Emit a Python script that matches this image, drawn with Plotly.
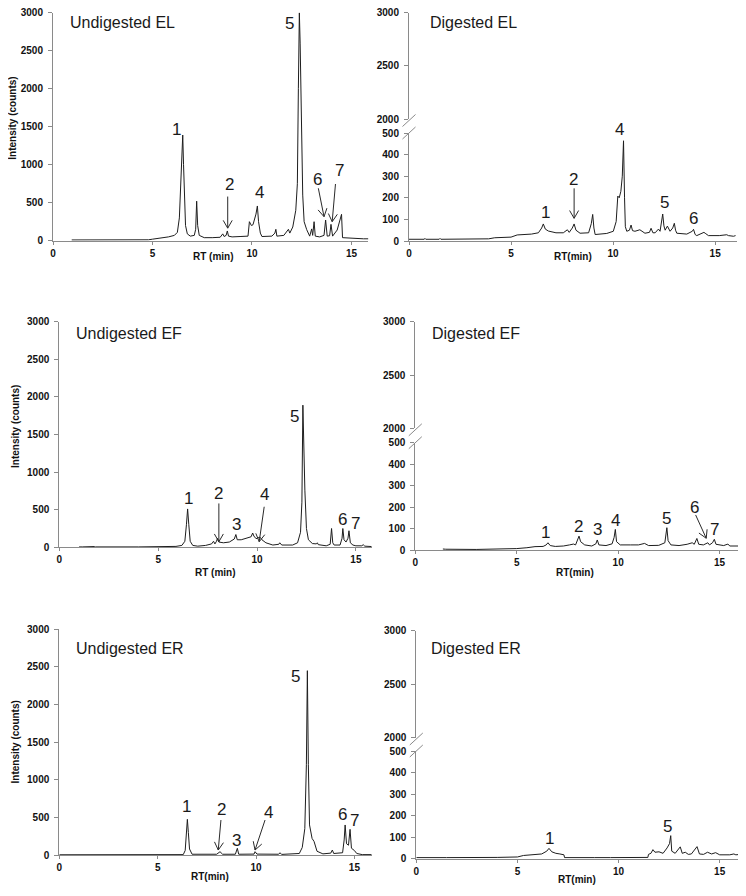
import math
import plotly.graph_objects as go

# page body has an 8px default margin: the figure is sized to fill the rest of the window
PAGE_OFF = 8
W, H = 746 - PAGE_OFF, 896 - PAGE_OFF

# ---------------- data (retention time in min, intensity in counts) ----------------
el_undig_rt = [0.94, 2.75, 3.4, 4.8, 5.0, 5.5, 5.8, 6.1, 6.25, 6.35, 6.42, 6.47, 6.52, 6.56, 6.6, 6.66, 6.75, 6.9,
               7.1, 7.17, 7.22, 7.27, 7.35, 7.6, 8.0, 8.4, 8.53, 8.6, 8.7, 8.76, 8.82, 9.0, 9.4, 9.8, 9.87, 9.97,
               10.05, 10.2, 10.27, 10.33, 10.42, 10.5, 11.0, 11.15, 11.2, 11.25, 11.6, 11.83, 11.9, 12.05, 12.2,
               12.28, 12.33, 12.38, 12.42, 12.5, 12.55, 12.62, 12.75, 12.9, 13.0, 13.05, 13.12, 13.18, 13.4,
               13.62, 13.7, 13.78, 13.9, 13.97, 14.05, 14.28, 14.45, 14.5, 14.55, 14.8, 15.2, 15.6, 15.85]
el_undig_int = [10, 10, 10, 12, 20, 35, 50, 70, 110, 300, 700, 1100, 1390, 1000, 500, 200, 90, 60,
                70, 150, 520, 200, 70, 40, 40, 45, 90, 55, 70, 128, 60, 50, 55, 60, 250, 200,
                210, 350, 457, 250, 100, 55, 60, 100, 150, 60, 70, 150, 100, 180, 400,
                750, 2000, 3000, 2600, 1570, 600, 250, 145, 60, 155, 70, 250, 60, 50,
                70, 272, 60, 65, 215, 60, 140, 300, 347, 40, 35, 30, 25, 25]

el_dig_rt = [0, 0.75, 0.78, 0.82, 1.48, 1.52, 1.56, 3.5, 3.9, 4.2, 5.0, 5.3, 5.6, 6.0, 6.34, 6.5, 6.58, 6.68,
             6.83, 7.2, 7.56, 7.76, 7.85, 8.0, 8.09, 8.18, 8.38, 8.8, 8.93, 9.0, 9.06, 9.12, 9.69, 10.01, 10.15,
             10.23, 10.3, 10.38, 10.45, 10.51, 10.56, 10.6, 10.67, 10.8, 10.88, 10.95, 11.07, 11.31, 11.56,
             11.78, 11.86, 11.95, 12.06, 12.22, 12.3, 12.38, 12.43, 12.49, 12.55, 12.66, 12.79, 12.92, 13.0,
             13.06, 13.12, 13.61, 13.88, 13.94, 14.02, 14.1, 14.35, 14.45, 14.51, 14.67, 15.2, 15.57, 15.65,
             15.9, 16.0]
el_dig_int = [8, 8, 12, 8, 8, 12, 8, 8, 10, 15, 18, 28, 30, 32, 38, 60, 79, 55,
              46, 38, 38, 52, 40, 60, 79, 50, 36, 38, 80, 123, 60, 30, 35, 45, 90,
              208, 200, 230, 300, 464, 200, 66, 45, 50, 74, 48, 45, 52, 36,
              40, 59, 38, 38, 55, 45, 90, 125, 70, 50, 69, 45, 60, 82,
              50, 36, 32, 45, 54, 30, 25, 38, 40, 36, 25, 25, 29, 25,
              22, 25]

ef_undig_rt = [1.0, 1.13, 1.16, 1.78, 1.82, 4.0, 5.5, 5.9, 6.2, 6.35, 6.43, 6.49, 6.55, 6.62, 6.75, 7.0, 7.4,
               7.7, 7.8, 7.87, 7.95, 8.0, 8.07, 8.3, 8.6, 8.85, 8.93, 9.0, 9.2, 9.5, 9.7, 9.78, 9.84, 9.95,
               10.05, 10.15, 10.25, 10.45, 10.8, 11.1, 11.15, 11.25, 11.8, 12.05, 12.2, 12.27, 12.32, 12.36,
               12.42, 12.5, 12.6, 12.8, 13.0, 13.05, 13.1, 13.5, 13.7, 13.77, 13.83, 13.9, 14.2, 14.3, 14.34,
               14.4, 14.5, 14.6, 14.65, 14.72, 14.85, 15.0, 15.3, 15.37, 15.45, 15.8]
ef_undig_int = [5, 8, 5, 10, 5, 5, 8, 12, 25, 80, 300, 510, 300, 80, 25, 15, 25,
                45, 80, 45, 80, 120, 70, 60, 70, 110, 170, 100, 100, 125, 140, 190, 150, 115,
                120, 135, 100, 60, 30, 40, 60, 30, 30, 60, 200, 600, 1890, 1250,
                760, 250, 100, 50, 45, 60, 35, 20, 40, 250, 60, 30, 30, 120, 250,
                100, 70, 120, 220, 60, 30, 20, 20, 35, 15, 10]

ef_dig_rt = [1.36, 1.5, 3.0, 4.0, 4.5, 5.0, 5.5, 5.9, 6.3, 6.45, 6.54, 6.65, 6.9, 7.3, 7.6, 7.8, 7.9, 8.0,
             8.07, 8.15, 8.35, 8.7, 8.9, 8.97, 9.05, 9.4, 9.7, 9.8, 9.86, 9.92, 10.1, 10.6, 11.0, 11.3, 11.5,
             12.0, 12.3, 12.4, 12.46, 12.6, 13.0, 13.4, 13.65, 13.75, 13.88, 13.97, 14.2, 14.42, 14.5, 14.65,
             14.74, 14.82, 15.2, 15.41, 15.5, 16.0]
ef_dig_int = [6, 5, 4, 5, 7, 8, 12, 17, 18, 25, 35, 22, 18, 20, 25, 29, 25, 45,
              66, 40, 25, 20, 30, 48, 25, 22, 30, 60, 97, 40, 25, 25, 25, 32, 22,
              23, 35, 105, 45, 25, 22, 28, 35, 28, 55, 28, 25, 35, 25, 35,
              51, 28, 22, 29, 20, 20]

er_undig_rt = [0, 6.3, 6.4, 6.46, 6.51, 6.56, 6.62, 6.75, 7.5, 8.0, 8.17, 8.3, 8.95, 9.05, 9.12, 9.9, 9.95,
               10.05, 11.15, 11.22, 11.3, 12.2, 12.35, 12.48, 12.56, 12.61, 12.66, 12.72, 12.85, 12.95, 13.1,
               13.4, 13.8, 13.88, 13.95, 14.4, 14.48, 14.53, 14.6, 14.7, 14.78, 14.85, 15.0, 15.12, 15.4, 15.88]
er_undig_int = [3, 5, 60, 300, 474, 300, 80, 10, 5, 10, 44, 10, 10, 89, 10, 12, 44,
                12, 10, 30, 8, 20, 100, 350, 1200, 2450, 1200, 400, 220, 180, 50,
                15, 25, 66, 20, 30, 200, 399, 150, 130, 341, 90, 60, 20, 5, 5]

er_dig_rt = [0, 0.7, 1.5, 4.0, 5.0, 5.3, 5.8, 6.2, 6.45, 6.56, 6.7, 6.9, 7.1, 7.3, 7.33, 7.75, 8.8, 9.6,
             11.45, 11.48, 11.6, 11.7, 11.8, 12.0, 12.2, 12.4, 12.52, 12.58, 12.63, 12.8, 12.95, 13.05, 13.15,
             13.3, 13.45, 13.6, 13.88, 14.0, 14.2, 14.4, 14.6, 14.8, 15.0, 15.5, 15.7, 15.8, 16.0]
er_dig_int = [5, 6, 5, 6, 8, 15, 18, 22, 35, 48, 32, 25, 22, 18, 5, 6, 5, 5,
              6, 20, 25, 42, 30, 32, 25, 50, 70, 107, 35, 25, 40, 55, 25,
              30, 20, 22, 56, 22, 20, 30, 22, 28, 18, 18, 22, 18, 20]

left_ticks = [0, 500, 1000, 1500, 2000, 2500, 3000]
lower_ticks = [0, 100, 200, 300, 400, 500]
upper_ticks = [2000, 2500, 3000]
x_ticks = [0, 5, 10, 15]

# peak labels: (text, rt, intensity)
labels_el_undig = [("1", 6.22, 1466), ("2", 8.89, 733), ("4", 10.37, 632), ("5", 11.9, 2860),
                   ("6", 13.3, 799), ("7", 14.42, 921)]
labels_el_dig = [("1", 6.68, 131), ("2", 8.05, 287), ("4", 10.29, 517), ("5", 12.52, 177), ("6", 13.92, 105)]
labels_ef_undig = [("1", 6.52, 651), ("2", 8.04, 709), ("3", 8.97, 297), ("4", 10.4, 696), ("5", 11.92, 1746),
                   ("6", 14.31, 372), ("7", 14.98, 319)]
labels_ef_dig = [("1", 6.42, 82), ("2", 8.02, 109), ("3", 9.0, 97), ("4", 9.86, 140), ("5", 12.37, 148),
                 ("6", 13.77, 201), ("7", 14.75, 97)]
labels_er_undig = [("1", 6.47, 651), ("2", 8.25, 607), ("3", 9.02, 199), ("4", 10.63, 563), ("5", 12.02, 2379),
                   ("6", 14.39, 532), ("7", 15.0, 465)]
labels_er_dig = [("1", 6.59, 94), ("5", 12.4, 148)]

# arrows: (tip rt, tip intensity, tail dx px, tail dy px)
arrows_el_undig = [(8.78, 165, 0, -31.6), (13.62, 316, -5.7, -28.4), (14.03, 250, 3.3, -37.7)]
arrows_el_dig = [(8.09, 105, 0, -30)]
arrows_ef_undig = [(8.07, 74, 0, -38.3), (10.11, 74, 5, -35)]
arrows_ef_dig = [(14.34, 56, -10.6, -23.3)]
arrows_er_undig = [(8.08, 66, 2.7, -30), (9.95, 66, 10, -30)]
arrows_er_dig = []

# ---------------- layout geometry (window pixels) ----------------
FONT = "Liberation Sans, Arial, Helvetica, sans-serif"
AXC = "#8a8a8a"
LC = "#1e1e1e"
TXT = "#1a1a1a"


def fx(p):
    return (p - PAGE_OFF) / W


def fy(p):
    return 1 - (p - PAGE_OFF) / H


panels = [
    dict(title="Undigested EL", rt=el_undig_rt, y=el_undig_int, broken=False,
         xpx=(53, 368.4), xmax=15.85, ypx=(12.7, 240.7), title_px=(68, 23),
         xlabel="RT (min)", xlabel_px=(213, 256.7), ylabel_px=(12.7, 118),
         labels=labels_el_undig, arrows=arrows_el_undig),
    dict(title="Digested EL", rt=el_dig_rt, y=el_dig_int, broken=True,
         xpx=(409, 737), xmax=16.07, ypx=(133, 241), upx=(12.7, 119.0), title_px=(428, 22.7),
         xlabel="RT(min)", xlabel_px=(573, 256.5), labels=labels_el_dig, arrows=arrows_el_dig),
    dict(title="Undigested EF", rt=ef_undig_rt, y=ef_undig_int, broken=False,
         xpx=(59.3, 371.7), xmax=15.8, ypx=(321.7, 547.3), title_px=(74, 333.3),
         xlabel="RT (min)", xlabel_px=(215, 572.7), ylabel_px=(15, 427),
         labels=labels_ef_undig, arrows=arrows_ef_undig),
    dict(title="Digested EF", rt=ef_dig_rt, y=ef_dig_int, broken=True,
         xpx=(415.3, 739.7), xmax=15.99, ypx=(442.7, 550.3), upx=(321.7, 428.3), title_px=(430.3, 333.3),
         xlabel="RT(min)", xlabel_px=(574.7, 572.7), labels=labels_ef_dig, arrows=arrows_ef_dig),
    dict(title="Undigested ER", rt=er_undig_rt, y=er_undig_int, broken=False,
         xpx=(59.3, 371.7), xmax=15.88, ypx=(629.3, 855), title_px=(74, 648.3),
         xlabel="RT(min)", xlabel_px=(210, 876), ylabel_px=(15, 742.5),
         labels=labels_er_undig, arrows=arrows_er_undig),
    dict(title="Digested ER", rt=er_dig_rt, y=er_dig_int, broken=True,
         xpx=(416.3, 739.7), xmax=15.99, ypx=(751, 858.7), upx=(630.7, 737.5), title_px=(429, 648.3),
         xlabel="RT(min)", xlabel_px=(577, 879.3), labels=labels_er_dig, arrows=arrows_er_dig),
]

fig = go.Figure()
layout = dict(width=W, height=H, margin=dict(l=0, r=0, t=0, b=0), showlegend=False,
              paper_bgcolor="white", plot_bgcolor="white", template="none",
              font=dict(family=FONT, color=TXT))
annotations = []
shapes = []

tickfont = dict(family=FONT, size=10, color="#111111", weight="bold")
common_axis = dict(showline=True, linecolor=AXC, linewidth=1, ticks="outside", tickcolor=AXC,
                   tickfont=tickfont, showgrid=False, zeroline=False, automargin=False,
                   fixedrange=True, ticklabeloverflow="allow")

yi = 0
for i, p in enumerate(panels, start=1):
    xid = "x" if i == 1 else f"x{i}"
    xkey = "xaxis" if i == 1 else f"xaxis{i}"
    yi += 1
    ylow = "y" if yi == 1 else f"y{yi}"
    ylowkey = "yaxis" if yi == 1 else f"yaxis{yi}"
    ymax = 500 if p["broken"] else 3000
    layout[xkey] = dict(domain=[fx(p["xpx"][0]), fx(p["xpx"][1])], range=[0, p["xmax"]], anchor=ylow,
                        ticklen=3, tickvals=x_ticks, **common_axis)
    layout[ylowkey] = dict(domain=[fy(p["ypx"][1]), fy(p["ypx"][0])], range=[0, ymax], anchor=xid,
                           ticklen=4, tickvals=lower_ticks if p["broken"] else left_ticks,
                           ticklabelstandoff=3, **common_axis)
    fig.add_trace(go.Scatter(x=p["rt"], y=p["y"], xaxis=xid, yaxis=ylow, mode="lines",
                             line=dict(color=LC, width=1), hoverinfo="skip"))
    if p["broken"]:
        yi += 1
        yup = f"y{yi}"
        yupkey = f"yaxis{yi}"
        layout[yupkey] = dict(domain=[fy(p["upx"][1]), fy(p["upx"][0])], range=[2000, 3000], anchor=xid,
                              ticklen=4, tickvals=upper_ticks, ticklabelstandoff=3, **common_axis)
        fig.add_trace(go.Scatter(x=p["rt"], y=p["y"], xaxis=xid, yaxis=yup, mode="lines",
                                 line=dict(color=LC, width=1), hoverinfo="skip"))
        # axis-break slashes
        for ypos, off in ((p["upx"][1], -1.5), (p["ypx"][0], 0)):
            shapes.append(dict(type="path", xref="paper", yref="paper", xsizemode="pixel",
                               ysizemode="pixel", xanchor=fx(p["xpx"][0]), yanchor=fy(ypos),
                               path=f"M -6.5,{-6 + off} L 6.5,{6 + off}",
                               line=dict(color=AXC, width=1)))
    # panel title
    annotations.append(dict(text=p["title"], x=fx(p["title_px"][0]), y=fy(p["title_px"][1]),
                            xref="paper", yref="paper", xanchor="left", yanchor="middle",
                            showarrow=False, font=dict(family=FONT, size=16, color=TXT)))
    # axis titles
    annotations.append(dict(text=p["xlabel"], x=fx(p["xlabel_px"][0]), y=fy(p["xlabel_px"][1]),
                            xref="paper", yref="paper", xanchor="center", yanchor="middle",
                            showarrow=False, font=dict(family=FONT, size=10, color="#111111",
                                                       weight="bold")))
    if "ylabel_px" in p:
        annotations.append(dict(text="Intensity (counts)", x=fx(p["ylabel_px"][0]), y=fy(p["ylabel_px"][1]),
                                xref="paper", yref="paper", xanchor="center", yanchor="middle",
                                textangle=-90, showarrow=False,
                                font=dict(family=FONT, size=10, color="#111111", weight="bold")))
    # peak labels
    yscale = (p["ypx"][1] - p["ypx"][0]) / ymax
    for txt, rx, ry in p["labels"]:
        shift = 0
        if ry > ymax:
            shift = (ry - ymax) * yscale
            ry = ymax
        annotations.append(dict(text=txt, x=rx, y=ry, xref=xid, yref=ylow, xanchor="center",
                                yanchor="middle", yshift=shift, showarrow=False,
                                font=dict(family=FONT, size=17, color=TXT)))
    # arrows
    for tx, ty, dx, dy in p["arrows"]:
        L = math.hypot(dx, dy)
        ux, uy = dx / L, dy / L
        hl, ang = 9, math.radians(30)
        h = []
        for a in (ang, -ang):
            hx = (ux * math.cos(a) - uy * math.sin(a)) * hl
            hy = (ux * math.sin(a) + uy * math.cos(a)) * hl
            h.append((hx, -hy))
        path = (f"M {dx:.2f},{-dy:.2f} L 0,0 M {h[0][0]:.2f},{h[0][1]:.2f} L 0,0 "
                f"L {h[1][0]:.2f},{h[1][1]:.2f}")
        shapes.append(dict(type="path", xref=xid, yref=ylow, xsizemode="pixel", ysizemode="pixel",
                           xanchor=tx, yanchor=ty, path=path, line=dict(color="#2a2a2a", width=1)))

layout["annotations"] = annotations
layout["shapes"] = shapes
fig.update_layout(**layout)
fig.write_html("out.html")
